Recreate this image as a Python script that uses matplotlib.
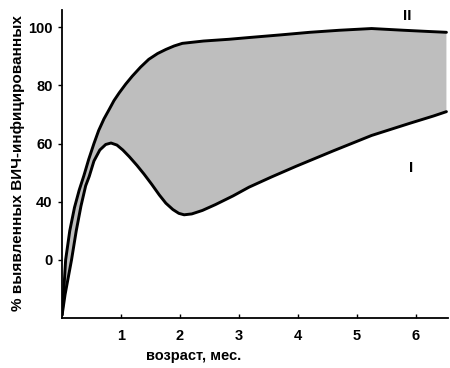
import numpy as np
import matplotlib
matplotlib.use("Agg")
import matplotlib.pyplot as plt

plt.rcParams["font.family"] = ["Liberation Sans", "DejaVu Sans"]

# curve II (upper bound)
upper_x = [0.0, 0.03, 0.06, 0.13, 0.21, 0.29, 0.37, 0.45, 0.54, 0.62, 0.71, 0.80, 0.88, 0.97, 1.08, 1.19, 1.33,
           1.47, 1.62, 1.76, 1.90, 2.04, 2.40, 2.83, 3.17, 3.70, 4.20, 4.70, 5.25, 5.80, 6.20, 6.52]
upper_y = [1.0, 10.0, 20.0, 30.0, 38.0, 44.0, 49.0, 54.5, 60.0, 64.5, 68.5, 71.8, 74.8, 77.5, 80.5, 83.2, 86.3,
           89.0, 91.0, 92.4, 93.6, 94.5, 95.3, 95.9, 96.5, 97.4, 98.3, 99.0, 99.6, 99.0, 98.6, 98.3]
# curve I (lower bound)
lower_x = [0.0, 0.05, 0.16, 0.24, 0.32, 0.40, 0.46, 0.54, 0.64, 0.74, 0.83, 0.93, 1.03, 1.14, 1.27, 1.39,
           1.52, 1.65, 1.76, 1.88, 1.98, 2.07, 2.20, 2.38, 2.60, 2.90, 3.17, 3.55, 3.97, 4.60,
           5.25, 5.90, 6.30, 6.52]
lower_y = [1.0, 8.0, 20.0, 30.0, 38.5, 45.5, 48.7, 54.0, 57.8, 59.7, 60.2, 59.5, 57.8, 55.5, 52.5, 49.5,
           46.0, 42.3, 39.5, 37.3, 36.0, 35.5, 35.8, 37.0, 39.0, 42.0, 45.0, 48.5, 52.2, 57.5,
           62.8, 67.0, 69.5, 71.0]

yticks = [20, 40, 60, 80, 100]
ytick_labels = ["0", "40", "60", "80", "100"]
xticks = [1, 2, 3, 4, 5, 6]

fig = plt.figure(figsize=(4.5, 3.68), dpi=100)
ax = fig.add_axes([0.138, 0.136, 0.858, 0.837])

poly_x = upper_x + lower_x[::-1]
poly_y = upper_y + lower_y[::-1]
ax.fill(poly_x, poly_y, color="#bebebe", lw=0)
ax.plot(upper_x, upper_y, color="black", lw=2.1, solid_capstyle="round", solid_joinstyle="round")
ax.plot(lower_x, lower_y, color="black", lw=2.1, solid_capstyle="round", solid_joinstyle="round")

ax.set_xlim(0, 6.55)
ax.set_ylim(0, 106)
ax.spines["top"].set_visible(False)
ax.spines["right"].set_visible(False)
ax.spines["left"].set_linewidth(1.3)
ax.spines["bottom"].set_linewidth(1.3)

ax.set_yticks(yticks)
ax.set_yticklabels(ytick_labels, fontsize=10.5, fontweight="bold")
ax.set_xticks(xticks)
ax.set_xticklabels([str(t) for t in xticks], fontsize=10.5, fontweight="bold")
ax.tick_params(axis="x", direction="in", length=3, width=1, pad=8)
ax.tick_params(axis="y", direction="out", length=3, width=1, pad=4)

ax.text(5.85, 104, "II", fontsize=11, fontweight="bold", ha="center", va="center")
ax.text(5.92, 51.5, "I", fontsize=11, fontweight="bold", ha="center", va="center")

fig.text(0.04, 0.557, "% выявленных ВИЧ-инфицированных", rotation=90,
         fontsize=11, fontweight="bold", ha="center", va="center")
fig.text(0.43, 0.032, "возраст, мес.", fontsize=10.5, fontweight="bold",
         ha="center", va="center")

fig.savefig("out.png", dpi=100)
